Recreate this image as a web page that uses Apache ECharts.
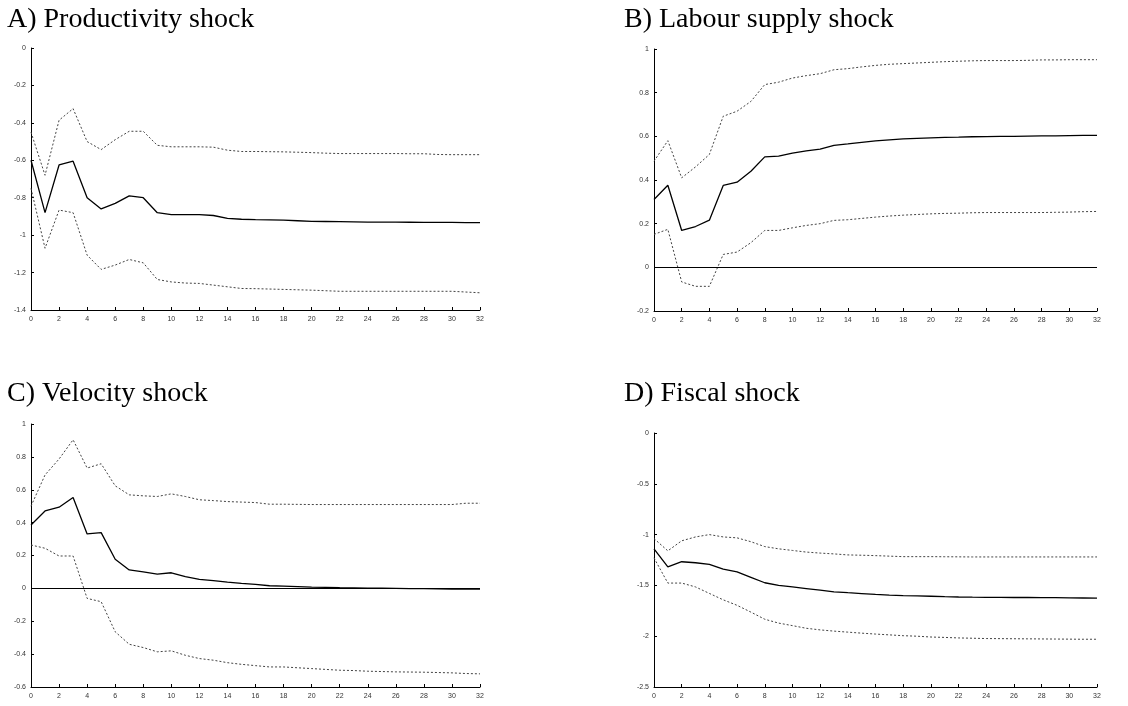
<!DOCTYPE html>
<html>
<head>
<meta charset="utf-8">
<script src="https://cdn.jsdelivr.net/npm/echarts@6/dist/echarts.min.js"></script>
<style>
  html, body { margin: 0; padding: 0; background: #fff; }
  #chart { width: 1128px; height: 706px; }
</style>
</head>
<body>
<div id="chart"></div>
<script>
// horizon 0..32, one value per period
const periods = Array.from({ length: 33 }, (_, i) => i);

// A) productivity shock
const midA = [-0.60,-0.88,-0.625,-0.605,-0.80,-0.86,-0.83,-0.79,-0.80,-0.88,-0.89,-0.89,-0.89,-0.895,-0.91,-0.915,-0.917,-0.918,-0.92,-0.923,-0.926,-0.927,-0.928,-0.929,-0.93,-0.93,-0.93,-0.931,-0.932,-0.932,-0.932,-0.933,-0.933];
const upA = [-0.45,-0.68,-0.386,-0.324,-0.50,-0.543,-0.49,-0.445,-0.445,-0.52,-0.528,-0.528,-0.528,-0.53,-0.546,-0.553,-0.553,-0.554,-0.555,-0.557,-0.559,-0.562,-0.564,-0.564,-0.564,-0.564,-0.564,-0.565,-0.565,-0.569,-0.57,-0.57,-0.57];
const loA = [-0.75,-1.07,-0.866,-0.88,-1.107,-1.183,-1.16,-1.13,-1.148,-1.237,-1.25,-1.256,-1.258,-1.267,-1.276,-1.285,-1.286,-1.288,-1.29,-1.292,-1.294,-1.297,-1.30,-1.30,-1.30,-1.30,-1.30,-1.30,-1.30,-1.30,-1.30,-1.304,-1.308];

// B) labour supply shock
const midB = [0.311,0.376,0.169,0.187,0.216,0.375,0.39,0.44,0.506,0.509,0.523,0.533,0.541,0.559,0.565,0.572,0.579,0.584,0.588,0.591,0.593,0.595,0.596,0.598,0.599,0.60,0.60,0.601,0.602,0.602,0.603,0.604,0.604];
const upB = [0.486,0.58,0.41,0.46,0.517,0.692,0.715,0.76,0.837,0.848,0.867,0.878,0.887,0.905,0.91,0.918,0.925,0.93,0.933,0.936,0.939,0.942,0.944,0.946,0.947,0.947,0.947,0.948,0.95,0.95,0.951,0.951,0.951];
const loB = [0.151,0.174,-0.067,-0.087,-0.087,0.059,0.07,0.113,0.169,0.169,0.181,0.192,0.2,0.215,0.218,0.224,0.23,0.235,0.239,0.242,0.245,0.247,0.248,0.25,0.251,0.251,0.251,0.251,0.251,0.252,0.253,0.255,0.256];

// C) velocity shock
const midC = [0.386,0.471,0.494,0.553,0.331,0.339,0.177,0.112,0.101,0.087,0.095,0.071,0.055,0.047,0.038,0.03,0.024,0.016,0.014,0.011,0.008,0.006,0.004,0.003,0.002,0.001,0.0,-0.001,-0.002,-0.003,-0.004,-0.004,-0.004];
const upC = [0.50,0.69,0.787,0.904,0.732,0.758,0.624,0.569,0.563,0.559,0.575,0.559,0.539,0.534,0.528,0.525,0.522,0.512,0.512,0.511,0.51,0.51,0.51,0.51,0.51,0.51,0.51,0.51,0.51,0.51,0.51,0.518,0.518];
const loC = [0.264,0.244,0.197,0.197,-0.061,-0.081,-0.264,-0.34,-0.36,-0.386,-0.38,-0.407,-0.427,-0.437,-0.452,-0.462,-0.47,-0.478,-0.478,-0.483,-0.488,-0.493,-0.498,-0.5,-0.504,-0.506,-0.508,-0.509,-0.51,-0.512,-0.514,-0.518,-0.52];

// D) fiscal shock
const midD = [-1.14,-1.318,-1.267,-1.277,-1.293,-1.34,-1.366,-1.42,-1.474,-1.499,-1.515,-1.531,-1.547,-1.563,-1.572,-1.58,-1.588,-1.595,-1.601,-1.604,-1.607,-1.611,-1.614,-1.616,-1.617,-1.618,-1.619,-1.619,-1.62,-1.621,-1.622,-1.624,-1.626];
const upD = [-1.039,-1.16,-1.061,-1.023,-1.0,-1.023,-1.032,-1.07,-1.118,-1.14,-1.156,-1.172,-1.182,-1.19,-1.2,-1.203,-1.207,-1.212,-1.217,-1.217,-1.217,-1.218,-1.219,-1.22,-1.22,-1.22,-1.22,-1.22,-1.22,-1.22,-1.22,-1.22,-1.22];
const loD = [-1.229,-1.477,-1.477,-1.515,-1.579,-1.642,-1.696,-1.763,-1.833,-1.871,-1.896,-1.922,-1.938,-1.95,-1.96,-1.97,-1.979,-1.987,-1.995,-2.0,-2.008,-2.012,-2.017,-2.02,-2.023,-2.024,-2.025,-2.026,-2.027,-2.028,-2.029,-2.03,-2.03];

const titles = ["A) Productivity shock", "B) Labour supply shock", "C) Velocity shock", "D) Fiscal shock"];
const yMin = [-1.4, -0.2, -0.6, -2.5];
const yMax = [0, 1, 1, 0];
const yStep = [0.2, 0.2, 0.2, 0.5];

const panels = [
  { mid: midA, up: upA, lo: loA, zero: false, grid: { left: 31, top: 48, width: 449, height: 262 }, tx: 7, ty: 6 },
  { mid: midB, up: upB, lo: loB, zero: true,  grid: { left: 654, top: 49, width: 443, height: 262 }, tx: 624, ty: 6 },
  { mid: midC, up: upC, lo: loC, zero: true,  grid: { left: 31, top: 424, width: 449, height: 263 }, tx: 7, ty: 380 },
  { mid: midD, up: upD, lo: loD, zero: false, grid: { left: 654, top: 433, width: 443, height: 254 }, tx: 624, ty: 380 },
];

const tickFont = { fontFamily: "Liberation Sans", fontSize: 7, color: "#333" };
const pairs = (arr) => arr.map((v, i) => [periods[i], v]);

let grid = [], xAxis = [], yAxis = [], series = [], graphic = [];
panels.forEach((p, k) => {
  grid.push(p.grid);
  xAxis.push({
    type: "value", gridIndex: k, min: 0, max: 32, interval: 2,
    axisLine: { onZero: false, lineStyle: { color: "#000", width: 1 } },
    axisTick: { inside: true, length: 3, lineStyle: { color: "#000" } },
    axisLabel: Object.assign({ margin: 6 }, tickFont),
    splitLine: { show: false },
  });
  yAxis.push({
    type: "value", gridIndex: k, min: yMin[k], max: yMax[k], interval: yStep[k],
    axisLine: { show: true, onZero: false, lineStyle: { color: "#000", width: 1 } },
    axisTick: { show: true, inside: true, length: 3, lineStyle: { color: "#000" } },
    axisLabel: Object.assign({ margin: 5 }, tickFont),
    splitLine: { show: false },
  });
  const mid = {
    type: "line", xAxisIndex: k, yAxisIndex: k, data: pairs(p.mid),
    symbol: "none", lineStyle: { color: "#000", width: 1.3 }, z: 3,
  };
  if (p.zero) {
    // horizontal zero reference line
    mid.markLine = {
      silent: true, symbol: "none", label: { show: false },
      lineStyle: { color: "#000", type: "solid", width: 1 },
      data: [[{ coord: [0, 0] }, { coord: [32, 0] }]],
    };
  }
  series.push(mid);
  [p.up, p.lo].forEach((band) => {
    series.push({
      type: "line", xAxisIndex: k, yAxisIndex: k, data: pairs(band),
      symbol: "none", lineStyle: { color: "#444", width: 1, type: [2, 2] },
    });
  });
  graphic.push({
    type: "text", left: p.tx, top: p.ty,
    style: { text: titles[k], font: "28px 'Liberation Serif'", fill: "#000" },
  });
});

const myChart = echarts.init(document.getElementById("chart"));
myChart.setOption({
  animation: false,
  backgroundColor: "#fff",
  grid, xAxis, yAxis, series, graphic,
});
</script>
</body>
</html>
